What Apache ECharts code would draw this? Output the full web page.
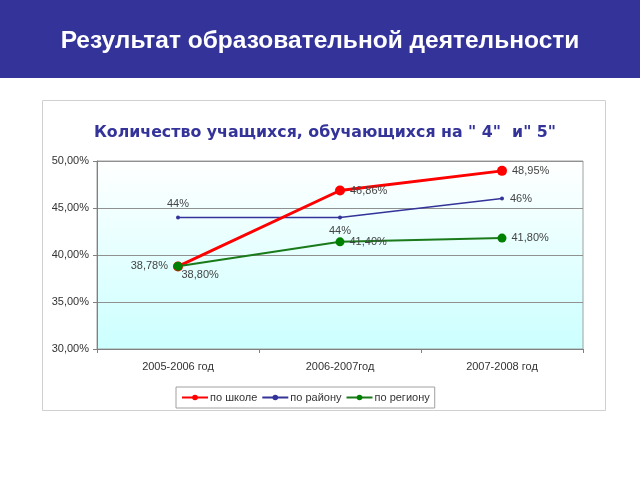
<!DOCTYPE html>
<html><head><meta charset="utf-8">
<script src="https://cdn.jsdelivr.net/npm/echarts@6/dist/echarts.min.js"></script>
<style>html,body{margin:0;padding:0;background:#fff}#c{width:640px;height:480px}</style>
</head><body><div id="c"></div>
<script>
const categories = ['2005-2006 год', '2006-2007год', '2007-2008 год'];
const school = [38.78, 46.86, 48.95];
const district = [44, 44, 46];
const region = [38.80, 41.40, 41.80];
const schoolLabels = ['38,78%', '46,86%', '48,95%'];
const districtLabels = ['44%', '44%', '46%'];
const regionLabels = ['38,80%', '41,40%', '41,80%'];
const yTicks = {min: 30, max: 50, step: 5};

const chart = echarts.init(document.getElementById('c'));
function mk(vals, labels, positions) {
  return vals.map((v, i) => ({value: v, label: {position: positions[i], formatter: labels[i]}}));
}
chart.setOption({
  animation: false,
  graphic: [
    {type: 'rect', shape: {x: 0, y: 0, width: 640, height: 78}, style: {fill: '#333399'}, z: -10},
    {type: 'text', left: 'center', top: 29, style: {text: 'Результат образовательной деятельности', fill: '#fff', font: 'bold 24.5px "Liberation Sans", Arial, sans-serif'}},
    {type: 'rect', shape: {x: 42.5, y: 100.5, width: 563, height: 310}, style: {fill: '#fff', stroke: '#d0d0d0', lineWidth: 1}, z: -10}
  ],
  title: {
    text: 'Количество учащихся, обучающихся на " 4"  и" 5"',
    left: 320, top: 120, textAlign: 'center',
    textStyle: {color: '#333399', fontSize: 15.8, fontWeight: 'bold', fontFamily: '"DejaVu Sans", Verdana, sans-serif'}
  },
  grid: {
    left: 97, right: 57, top: 161, bottom: 131, show: true,
    borderColor: '#a0a0a0', borderWidth: 1,
    backgroundColor: new echarts.graphic.LinearGradient(0, 0, 0, 1, [{offset: 0, color: '#ffffff'}, {offset: 1, color: '#ccffff'}])
  },
  xAxis: {
    type: 'category', data: categories, boundaryGap: true,
    axisLine: {lineStyle: {color: '#808080'}},
    axisTick: {show: true, length: 4, lineStyle: {color: '#808080'}},
    axisLabel: {color: '#333', fontSize: 11, margin: 12, fontFamily: '"Liberation Sans", Arial, sans-serif'}
  },
  yAxis: {
    type: 'value', min: yTicks.min, max: yTicks.max, interval: yTicks.step,
    axisLine: {show: true, lineStyle: {color: '#808080'}},
    axisTick: {show: true, length: 4, lineStyle: {color: '#808080'}},
    splitLine: {lineStyle: {color: '#909090'}},
    axisLabel: {color: '#333', fontSize: 11, margin: 8, fontFamily: '"Liberation Sans", Arial, sans-serif',
      formatter: v => v.toFixed(2).replace('.', ',') + '%'}
  },
  legend: {
    bottom: 72, left: 176, itemGap: 4, itemWidth: 26, itemHeight: 7,
    borderColor: '#a0a0a0', borderWidth: 1, padding: [5, 5],
    textStyle: {color: '#333', fontSize: 11, padding: [0, 0, 0, -3], fontFamily: '"Liberation Sans", Arial, sans-serif'},
    data: ['по школе', 'по району', 'по региону']
  },
  series: [
    {name: 'по школе', type: 'line', data: mk(school, schoolLabels, ['left', 'right', 'right']),
      symbol: 'circle', symbolSize: 10, itemStyle: {color: '#ff0000'}, lineStyle: {width: 3, color: '#ff0000'},
      label: {show: true, color: '#444', fontSize: 11, distance: 5}, z: 3},
    {name: 'по району', type: 'line', data: mk(district, districtLabels, ['top', 'bottom', 'right']),
      symbol: 'circle', symbolSize: 4, itemStyle: {color: '#333399'}, lineStyle: {width: 1.5, color: '#333399'},
      label: {show: true, color: '#444', fontSize: 11, distance: 6}, z: 2},
    {name: 'по региону', type: 'line', data: mk(region, regionLabels, [[8, 8], 'right', 'right']),
      symbol: 'circle', symbolSize: 9, itemStyle: {color: '#008000'}, lineStyle: {width: 2, color: '#1a7a1a'},
      label: {show: true, color: '#444', fontSize: 11, distance: 5}, z: 4}
  ]
});
</script></body></html>
